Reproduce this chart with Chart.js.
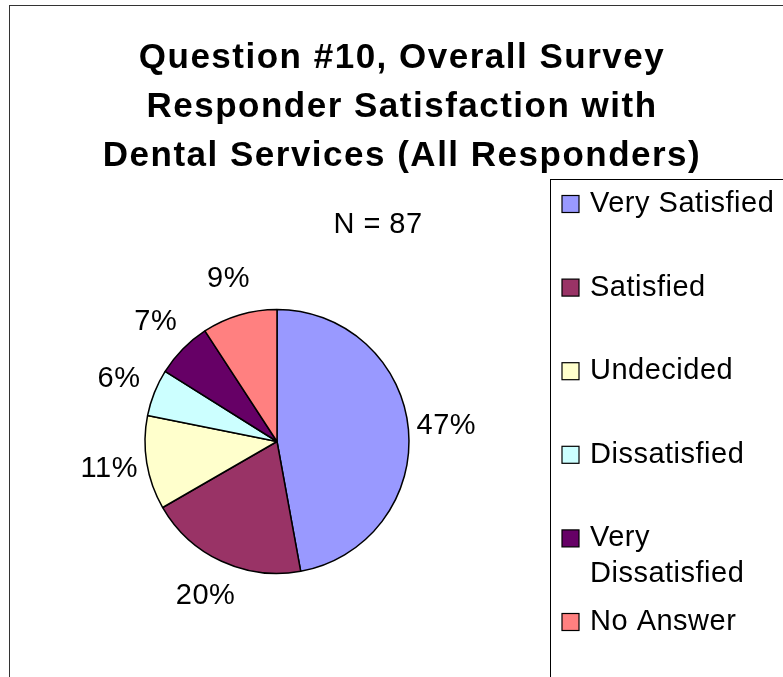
<!DOCTYPE html>
<html>
<head>
<meta charset="utf-8">
<script src="https://cdn.jsdelivr.net/npm/chart.js@4/dist/chart.umd.min.js"></script>
<style>
  html, body { margin: 0; padding: 0; background: #fff; }
  #wrap { width: 783px; height: 677px; }
</style>
</head>
<body>
<div id="wrap"><canvas id="pieChart" width="783" height="677"></canvas></div>
<script>
// survey answers (counts of 87 responders)
const categories = ['Very Satisfied', 'Satisfied', 'Undecided', 'Dissatisfied', 'Very Dissatisfied', 'No Answer'];
const counts = [41, 17, 10, 5, 6, 8];
const sliceColors = ['#9999FF', '#993366', '#FFFFCC', '#CCFFFF', '#660066', '#FF8080'];
const titleLines = ['Question #10, Overall Survey', 'Responder Satisfaction with', 'Dental Services (All Responders)'];
const subtitle = 'N = 87';

const FONT = "'Liberation Sans', Arial, sans-serif";
const total = counts.reduce((a, b) => a + b, 0);

const decorations = {
  id: 'decorations',
  afterDraw(chart) {
    const ctx = chart.ctx;
    ctx.save();

    // outer frame
    ctx.strokeStyle = '#333';
    ctx.lineWidth = 1;
    ctx.strokeRect(9.5, 5.5, 800, 700);

    // title
    ctx.fillStyle = '#000';
    ctx.textAlign = 'center';
    ctx.textBaseline = 'alphabetic';
    ctx.font = 'bold 35px ' + FONT;
    ctx.letterSpacing = '1.5px';
    titleLines.forEach((line, i) => ctx.fillText(line, 402, 68 + i * 49));

    ctx.font = '29px ' + FONT;
    ctx.letterSpacing = '0.5px';
    ctx.textBaseline = 'middle';
    ctx.fillText(subtitle, 378, 225);

    // percentage labels outside the slices
    const meta = chart.getDatasetMeta(0);
    meta.data.forEach((arc, i) => {
      const mid = (arc.startAngle + arc.endAngle) / 2;
      const d = arc.outerRadius + 38;
      const x = arc.x + Math.cos(mid) * d;
      const y = arc.y + Math.sin(mid) * d;
      ctx.fillText(Math.round(counts[i] / total * 100) + '%', x, y);
    });

    // legend
    ctx.strokeStyle = '#000';
    ctx.strokeRect(550.5, 179.5, 300, 600);
    ctx.textAlign = 'left';
    categories.forEach((label, i) => {
      const cy = 204 + i * 83.6;
      ctx.fillStyle = sliceColors[i];
      ctx.fillRect(562, cy - 8.5, 17, 17);
      ctx.strokeStyle = '#000';
      ctx.lineWidth = 1.2;
      ctx.strokeRect(562, cy - 8.5, 17, 17);
      ctx.fillStyle = '#000';
      let lines = [label];
      if (ctx.measureText(label).width > 200) {
        const words = label.split(' ');
        lines = [words[0], words.slice(1).join(' ')];
      }
      lines.forEach((l, j) => ctx.fillText(l, 590, cy + j * 36));
    });

    ctx.restore();
  }
};

new Chart(document.getElementById('pieChart').getContext('2d'), {
  type: 'pie',
  data: {
    labels: categories,
    datasets: [{
      data: counts,
      backgroundColor: sliceColors,
      borderColor: '#000',
      borderWidth: 1.5,
    }],
  },
  options: {
    responsive: false,
    animation: false,
    radius: 132,
    events: [],
    layout: {
      padding: { left: 145, right: 374, top: 309, bottom: 103 },
    },
    plugins: {
      legend: { display: false },
      title: { display: false },
      tooltip: { enabled: false },
    },
  },
  plugins: [decorations],
});
</script>
</body>
</html>
